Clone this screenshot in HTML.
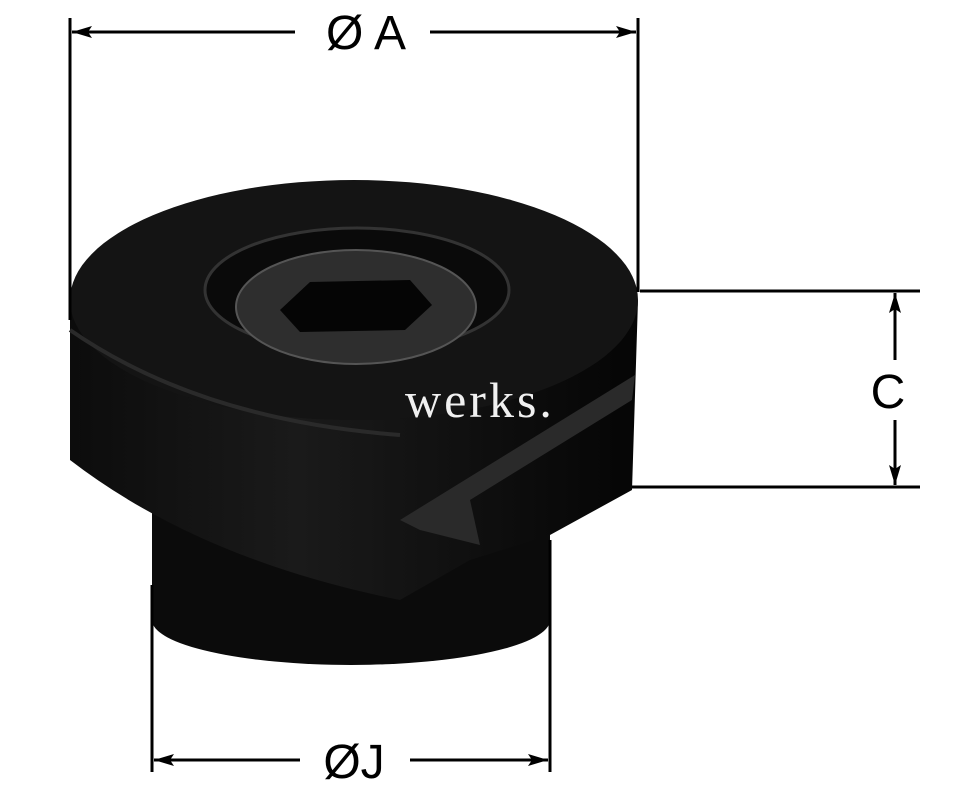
<!DOCTYPE html>
<html><head><style>html,body{margin:0;padding:0;background:#fff;width:976px;height:800px;overflow:hidden}</style></head>
<body>
<svg width="976" height="800" viewBox="0 0 976 800" xmlns="http://www.w3.org/2000/svg">
<defs>
<marker id="ar" markerWidth="20" markerHeight="12" refX="20" refY="6" orient="auto" markerUnits="userSpaceOnUse"><path d="M0,0 L20,6 L0,12 L4,6 Z" fill="#000"/></marker>
<linearGradient id="side" x1="0" x2="1" y1="0" y2="0"><stop offset="0" stop-color="#0c0c0c"/><stop offset="0.4" stop-color="#1a1a1a"/><stop offset="1" stop-color="#050505"/></linearGradient>
</defs>
<path d="M152,500 L152,620 A199,45 0 0 0 550,620 L550,500 Z" fill="#0b0b0b"/>
<path d="M70,300 L70,460 Q200,560 400,600 L470,560 L550,535 L632,490 L638,300 Z" fill="url(#side)"/>
<ellipse cx="354" cy="300" rx="284" ry="120" fill="#141414"/>
<path d="M70,330 Q200,420 400,435" stroke="#2a2a2a" stroke-width="4" fill="none"/>
<ellipse cx="357" cy="290" rx="152" ry="62" fill="#0a0a0a" stroke="#333" stroke-width="3"/>
<ellipse cx="356" cy="307" rx="120" ry="57" fill="#2e2e2e" stroke="#555" stroke-width="2"/>
<polygon points="280,310 310,282 410,280 432,305 405,330 300,332" fill="#050505"/>
<path d="M400,520 L635,375 L632,400 L470,500 L480,545 L420,530 Z" fill="#2a2a2a"/>
<text x="405" y="417" font-family="Liberation Serif, serif" font-size="50" letter-spacing="3" fill="#f0f0f0">werks.</text>
<g stroke="#000" stroke-width="3" fill="none">
<line x1="70" y1="18" x2="70" y2="320"/>
<line x1="638" y1="18" x2="638" y2="292"/>
<line x1="295" y1="32" x2="72" y2="32" marker-end="url(#ar)"/>
<line x1="430" y1="32" x2="636" y2="32" marker-end="url(#ar)"/>
<line x1="640" y1="291" x2="920" y2="291"/>
<line x1="632" y1="487" x2="920" y2="487"/>
<line x1="895" y1="360" x2="895" y2="293" marker-end="url(#ar)"/>
<line x1="895" y1="420" x2="895" y2="485" marker-end="url(#ar)"/>
<line x1="152" y1="585" x2="152" y2="772"/>
<line x1="550" y1="540" x2="550" y2="772"/>
<line x1="300" y1="760" x2="154" y2="760" marker-end="url(#ar)"/>
<line x1="410" y1="760" x2="548" y2="760" marker-end="url(#ar)"/>
</g>
<g font-family="Liberation Sans, sans-serif" font-size="48" fill="#000" text-anchor="middle">
<text x="366" y="49">Ø A</text>
<text x="888" y="408">C</text>
<text x="354" y="778">ØJ</text>
</g>
</svg>
</body></html>
